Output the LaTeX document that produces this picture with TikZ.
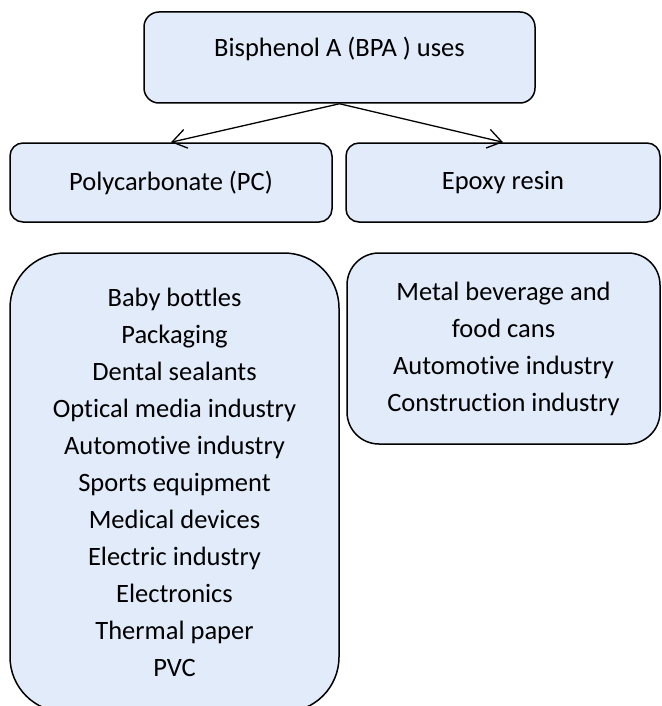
\documentclass[tikz,border=0pt]{standalone}
\usepackage{fontspec}
\setmainfont[Ligatures=NoCommon]{Carlito}
\usetikzlibrary{arrows.meta}
\definecolor{boxfill}{RGB}{225,235,250}

\begin{document}
\begin{tikzpicture}[x=1pt, y=-1pt,
    box/.style = {draw, line width=1.5pt, fill=boxfill, align=center,
        inner sep=0pt, font=\fontsize{26.5}{37}\selectfont},
    link/.style = {line width=1.3pt, -{Straight Barb[length=14pt, width=19pt, line width=1.3pt]}}]
    \useasboundingbox (0,0) rectangle (661,706);

    \node[box, rounded corners=15pt, minimum width=391pt, minimum height=91pt,
        text height=18pt, text depth=20pt] (bpa) at (339.5,57.5) {Bisphenol A (BPA ) uses};
    \node[box, rounded corners=13pt, minimum width=322pt, minimum height=79pt] (pc) at (171,182.5) {Polycarbonate (PC)};
    \node[box, rounded corners=13pt, minimum width=314pt, minimum height=79pt] (epoxy) at (503,182.5) {Epoxy resin};

    \node[box, rounded corners=55pt, minimum width=329pt, minimum height=459pt] (pcuses) at (174.5,482.5)
        {Baby bottles\\Packaging\\Dental sealants\\Optical media industry\\Automotive industry\\Sports equipment\\Medical devices\\Electric industry\\Electronics\\Thermal paper\\PVC};
    \node[box, rounded corners=32pt, minimum width=313pt, minimum height=191pt] (epoxyuses) at (503.5,348.5)
        {Metal beverage and\\food cans\\Automotive industry\\Construction industry};

    \draw[link] (bpa.south) -- (pc.north);
    \draw[link] (bpa.south) -- (epoxy.north);
\end{tikzpicture}
\end{document}
